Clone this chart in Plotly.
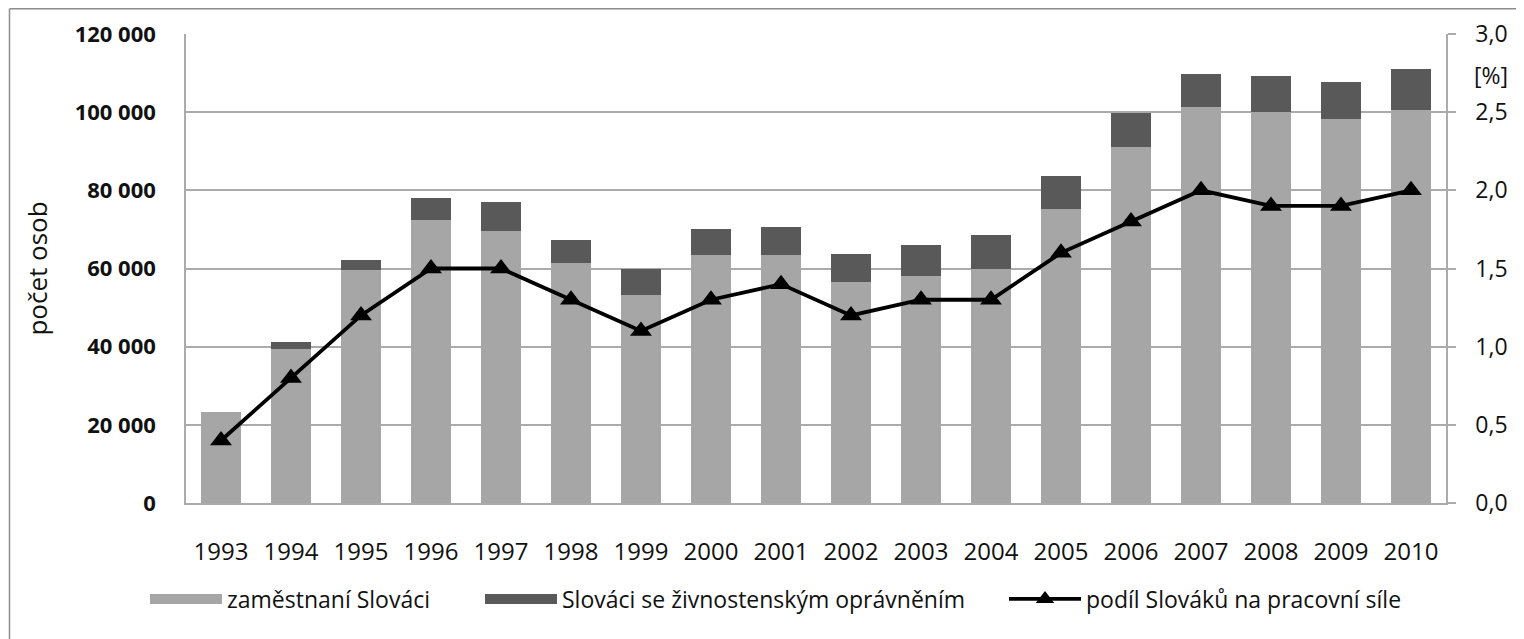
import plotly.graph_objects as go

years = [str(y) for y in range(1993, 2011)]
zamestnani = [23400, 39300, 59600, 72400, 69700, 61500, 53200, 63500, 63500,
              56600, 58200, 59800, 75200, 91200, 101200, 100100, 98200, 100600]
zivnostnici = [0, 2000, 2600, 5600, 7400, 5800, 6600, 6600, 7200,
               7000, 7800, 8800, 8500, 8500, 8500, 9100, 9500, 10400]
podil = [0.4, 0.8, 1.2, 1.5, 1.5, 1.3, 1.1, 1.3, 1.4, 1.2, 1.3, 1.3,
         1.6, 1.8, 2.0, 1.9, 1.9, 2.0]

names = ["zaměstnaní Slováci", "Slováci se živnostenským oprávněním",
         "podíl Slováků na pracovní síle"]
colors = ["#a6a6a6", "#595959", "black"]

FONT = "Open Sans, Lato, sans-serif"
GRID = "#ababab"
TXT = "#111111"

# page body has an 8px margin; coordinates below are in screenshot pixels
OFF = 8
W, H = 1524 - OFF, 639 - OFF
L = 186 - OFF
R = W - (1446 - OFF)
T = 34 - OFF
B = H - (503 - OFF)
pw, ph = W - L - R, H - T - B


def px(x):
    return (x - OFF - L) / pw


def py(y):
    return (H - B - (y - OFF)) / ph


fig = go.Figure()
# stacked bars (legend entries drawn by swatch traces below, linked by legendgroup)
fig.add_trace(go.Bar(x=years, y=zamestnani, name=names[0], legendgroup="g1",
                     showlegend=False, marker=dict(color=colors[0], line=dict(width=0))))
fig.add_trace(go.Bar(x=years, y=zivnostnici, name=names[1], legendgroup="g2",
                     showlegend=False, marker=dict(color=colors[1], line=dict(width=0))))
fig.add_trace(go.Scatter(x=years, y=podil, name=names[2], yaxis="y2",
                         mode="lines+markers", legend="legend3",
                         line=dict(color="black", width=3.8),
                         marker=dict(symbol="triangle-up", size=19, color="black")))
# wide rectangular legend swatches for the bar series
fig.add_trace(go.Scatter(x=[None], y=[None], name=names[0], legendgroup="g1",
                         mode="lines", line=dict(color=colors[0], width=10),
                         legend="legend", hoverinfo="skip"))
fig.add_trace(go.Scatter(x=[None], y=[None], name=names[1], legendgroup="g2",
                         mode="lines", line=dict(color=colors[1], width=10),
                         legend="legend2", hoverinfo="skip"))

leg_common = dict(orientation="h", yanchor="middle", y=py(599), xanchor="left",
                  font=dict(size=23, color=TXT), itemwidth=72,
                  bgcolor="rgba(0,0,0,0)", borderwidth=0)

fig.update_layout(
    width=W, height=H,
    margin=dict(l=L, r=R, t=T, b=B, pad=0, autoexpand=False),
    paper_bgcolor="white", plot_bgcolor="white",
    barmode="stack", bargap=0.43,
    separators=", ",
    font=dict(family=FONT, size=23, color=TXT),
    xaxis=dict(type="category", range=[-0.5, 17.5], showgrid=False, showline=True,
               linecolor=GRID, linewidth=1.5, ticks="", ticklabelstandoff=26,
               tickfont=dict(size=24)),
    yaxis=dict(range=[0, 120000], tickvals=[0, 20000, 40000, 60000, 80000, 100000, 120000],
               tickformat=",.0f", showgrid=True, gridcolor=GRID, gridwidth=1.5,
               showline=True, linecolor=GRID, linewidth=1.5, ticks="",
               ticklabelstandoff=24, tickfont=dict(size=22, weight="bold"), zeroline=False,
               title=dict(text="počet osob", font=dict(size=26), standoff=20)),
    yaxis2=dict(range=[0, 3], tickvals=[0, 0.5, 1, 1.5, 2, 2.5, 3],
                tickformat=".1f", overlaying="y", side="right", showgrid=False,
                showline=True, linecolor=GRID, linewidth=1.5,
                ticks="outside", ticklen=8, tickcolor=GRID, tickwidth=1.5,
                ticklabelstandoff=15, tickfont=dict(size=23), zeroline=False),
    legend=dict(x=px(145), **leg_common),
    legend2=dict(x=px(480), **leg_common),
    legend3=dict(x=px(1004), **leg_common),
    showlegend=True,
)

fig.add_annotation(text="[%]", xref="paper", yref="paper", x=px(1491), y=py(75),
                   showarrow=False, font=dict(size=23, color=TXT),
                   xanchor="center", yanchor="middle")

# outer chart frame (left and top edges visible in the reference)
fig.add_shape(type="line", xref="paper", yref="paper", x0=px(9.5), x1=px(9.5),
              y0=py(660), y1=py(8.8), line=dict(color="#8c8c8c", width=1.5))
fig.add_shape(type="line", xref="paper", yref="paper", x0=px(9.5), x1=px(1540),
              y0=py(8.8), y1=py(8.8), line=dict(color="#8c8c8c", width=1.5))

fig.write_html("out.html")
